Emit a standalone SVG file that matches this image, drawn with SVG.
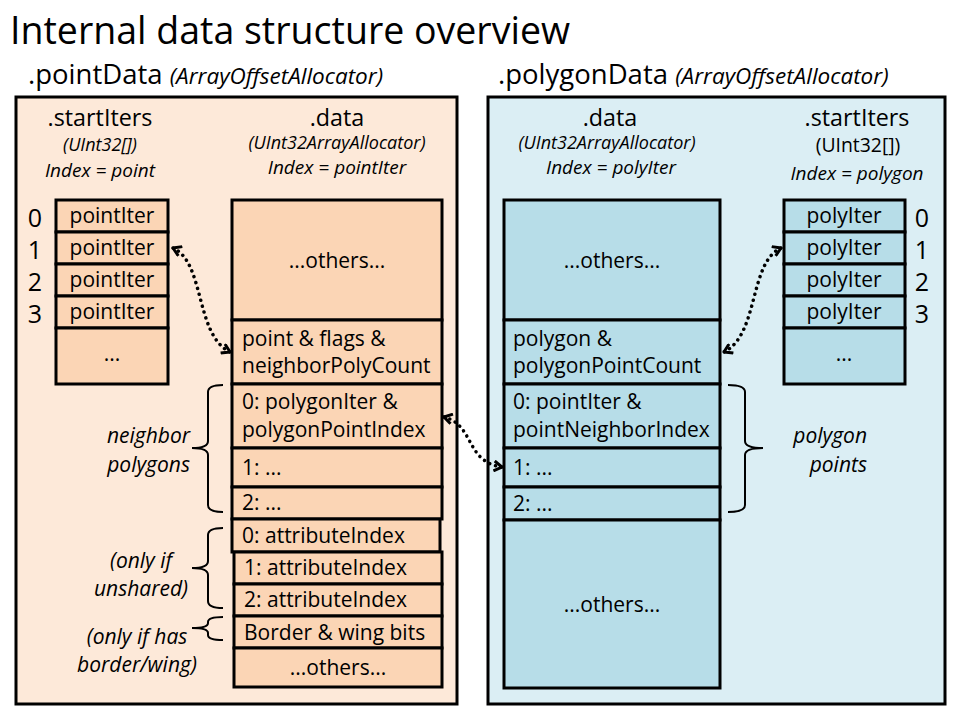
<svg xmlns="http://www.w3.org/2000/svg" width="960" height="720" viewBox="0 0 960 720">
<style>
text{font-family:"Open Sans","Noto Sans","Liberation Sans",sans-serif;fill:#000}
.t{font-size:37.5px}
.h{font-size:27.5px}
.hi{font-size:22.5px;font-style:italic}
.sh{font-size:23.3px;text-anchor:middle}
.si{font-size:18px;font-style:italic;text-anchor:middle}
.ix{font-size:19px;font-style:italic;text-anchor:middle}
.c{font-size:21px}
.cm{font-size:21px;text-anchor:middle}
.n{font-size:25px;text-anchor:middle}
.lbl{font-size:21px;font-style:italic}
.pl{fill:#fde9d9;stroke:#000;stroke-width:3}
.pr{fill:#dbeef4;stroke:#000;stroke-width:3}
.cl{fill:#fbd5b5;stroke:#000;stroke-width:3}
.cr{fill:#b7dde8;stroke:#000;stroke-width:3}
.br{fill:none;stroke:#000;stroke-width:2}
.ar{fill:none;stroke:#000;stroke-width:3.5;stroke-dasharray:0.1 6;stroke-linecap:round}
</style>
<defs>
<marker id="chev" viewBox="0 0 10 12" refX="9" refY="6" markerWidth="10" markerHeight="12" markerUnits="userSpaceOnUse" orient="auto-start-reverse">
<path d="M1,1 L9,6 L1,11" fill="none" stroke="#000" stroke-width="3"/>
</marker>
</defs>
<text class="t" x="10" y="43.5">Internal data structure overview</text>
<g id="pointData">
<text x="28" y="84"><tspan class="h">.pointData </tspan><tspan class="hi">(ArrayOffsetAllocator)</tspan></text>
<rect class="pl" x="16" y="97" width="441" height="607"/>
<text class="sh" x="100" y="126">.startIters</text>
<text class="si" x="100" y="151">(UInt32[])</text>
<text class="ix" x="100" y="177">Index = point</text>
<text class="sh" x="337" y="126">.data</text>
<text class="si" x="337" y="149">(UInt32ArrayAllocator)</text>
<text class="ix" x="337" y="174">Index = pointIter</text>
</g>
<g id="pointStartIters">
<rect class="cl" x="56" y="200" width="112" height="32"/>
<rect class="cl" x="56" y="232" width="112" height="32"/>
<rect class="cl" x="56" y="264" width="112" height="32"/>
<rect class="cl" x="56" y="296" width="112" height="32"/>
<rect class="cl" x="56" y="328" width="112" height="56"/>
<text class="cm" x="112" y="223">pointIter</text>
<text class="cm" x="112" y="255">pointIter</text>
<text class="cm" x="112" y="287">pointIter</text>
<text class="cm" x="112" y="319">pointIter</text>
<text class="cm" x="112" y="361">...</text>
<text class="n" x="35" y="227">0</text>
<text class="n" x="35" y="259">1</text>
<text class="n" x="35" y="291">2</text>
<text class="n" x="35" y="323">3</text>
</g>
<g id="pointDataCells">
<rect class="cl" x="232" y="200" width="210" height="120"/>
<rect class="cl" x="232" y="320" width="210" height="64"/>
<rect class="cl" x="232" y="384" width="210" height="64"/>
<rect class="cl" x="232" y="448" width="210" height="39"/>
<rect class="cl" x="232" y="487" width="210" height="32"/>
<rect class="cl" x="232" y="519" width="208" height="33"/>
<rect class="cl" x="234" y="552" width="208" height="32"/>
<rect class="cl" x="234" y="584" width="208" height="32"/>
<rect class="cl" x="234" y="616" width="208" height="32"/>
<rect class="cl" x="234" y="648" width="208" height="39"/>
<text class="cm" x="337" y="268">...others...</text>
<text class="c" x="242" y="346">point &amp; flags &amp;</text>
<text class="c" x="242" y="373">neighborPolyCount</text>
<text class="c" x="242" y="409">0: polygonIter &amp;</text>
<text class="c" x="242" y="437">polygonPointIndex</text>
<text class="c" x="242" y="475">1: ...</text>
<text class="c" x="242" y="510">2: ...</text>
<text class="c" x="242" y="543">0: attributeIndex</text>
<text class="c" x="244" y="575">1: attributeIndex</text>
<text class="c" x="244" y="607">2: attributeIndex</text>
<text class="c" x="244" y="640">Border &amp; wing bits</text>
<text class="cm" x="338" y="675">...others...</text>
</g>
<g id="leftBraces">
<path class="br" d="M223,385 Q208,385 208,392 L208,441 Q208,448 192,448 Q208,448 208,455 L208,505 Q208,512 223,512"/>
<path class="br" d="M223,528 Q208,528 208,535 L208,561 Q208,568 192,568 Q208,568 208,575 L208,601 Q208,608 223,608"/>
<path class="br" d="M223,617 Q208,617 208,622 L208,623 Q208,628 192,628 Q208,628 208,633 L208,635 Q208,640 223,640"/>
<text class="lbl" x="190" y="443" text-anchor="end">neighbor</text>
<text class="lbl" x="190" y="472" text-anchor="end">polygons</text>
<text class="lbl" x="141" y="568" text-anchor="middle">(only if</text>
<text class="lbl" x="141" y="596" text-anchor="middle">unshared)</text>
<text class="lbl" x="137" y="644" text-anchor="middle">(only if has</text>
<text class="lbl" x="137" y="672" text-anchor="middle">border/wing)</text>
</g>
<g id="polygonData">
<text x="498" y="84"><tspan class="h">.polygonData </tspan><tspan class="hi">(ArrayOffsetAllocator)</tspan></text>
<rect class="pr" x="488" y="97" width="457" height="607"/>
<text class="sh" x="610" y="126">.data</text>
<text class="si" x="607" y="149">(UInt32ArrayAllocator)</text>
<text class="ix" x="611" y="174">Index = polyIter</text>
<text class="sh" x="857" y="126">.startIters</text>
<text x="858" y="152" style="font-size:19.4px;text-anchor:middle">(UInt32[])</text>
<text class="ix" x="857" y="180">Index = polygon</text>
</g>
<g id="polygonDataCells">
<rect class="cr" x="504" y="200" width="216" height="120"/>
<rect class="cr" x="504" y="320" width="216" height="64"/>
<rect class="cr" x="504" y="384" width="216" height="64"/>
<rect class="cr" x="504" y="448" width="216" height="39"/>
<rect class="cr" x="504" y="487" width="216" height="33"/>
<rect class="cr" x="504" y="520" width="216" height="168"/>
<text class="cm" x="612" y="268">...others...</text>
<text class="c" x="513" y="346">polygon &amp;</text>
<text class="c" x="513" y="373">polygonPointCount</text>
<text class="c" x="513" y="409">0: pointIter &amp;</text>
<text class="c" x="513" y="437">pointNeighborIndex</text>
<text class="c" x="513" y="475">1: ...</text>
<text class="c" x="513" y="511">2: ...</text>
<text class="cm" x="612" y="612">...others...</text>
</g>
<g id="polygonStartIters">
<rect class="cr" x="784" y="200" width="121" height="32"/>
<rect class="cr" x="784" y="232" width="121" height="32"/>
<rect class="cr" x="784" y="264" width="121" height="32"/>
<rect class="cr" x="784" y="296" width="121" height="32"/>
<rect class="cr" x="784" y="328" width="121" height="56"/>
<text class="cm" x="844" y="223">polyIter</text>
<text class="cm" x="844" y="255">polyIter</text>
<text class="cm" x="844" y="287">polyIter</text>
<text class="cm" x="844" y="319">polyIter</text>
<text class="cm" x="844" y="361">...</text>
<text class="n" x="922" y="227">0</text>
<text class="n" x="922" y="259">1</text>
<text class="n" x="922" y="291">2</text>
<text class="n" x="922" y="323">3</text>
</g>
<g id="rightBrace">
<path class="br" d="M728,385 Q745,385 745,392 L745,441 Q745,448 763,448 Q745,448 745,455 L745,505 Q745,512 728,512"/>
<text class="lbl" x="867" y="443" text-anchor="end">polygon</text>
<text class="lbl" x="867" y="472" text-anchor="end">points</text>
</g>
<g id="connectors">
<path class="ar" d="M173,248 C205,262 195,335 230,352" marker-start="url(#chev)" marker-end="url(#chev)"/>
<path class="ar" d="M781,248 C749,262 759,335 724,352" marker-start="url(#chev)" marker-end="url(#chev)"/>
<path class="ar" d="M444,417 C475,425 465,462 502,467" marker-start="url(#chev)" marker-end="url(#chev)"/>
</g>
</svg>
